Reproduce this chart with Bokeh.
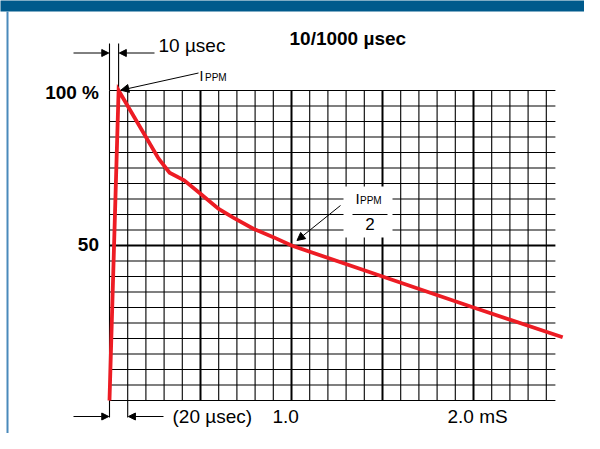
from bokeh.plotting import figure
from bokeh.models import Range1d, Arrow, NormalHead
from bokeh.core.properties import value
from bokeh.embed import file_html
from bokeh.resources import INLINE

# ---------------- data ----------------
time_ms = [0.0, 0.05, 0.27, 0.33, 0.41, 0.5, 0.6, 0.68, 0.79, 0.9, 1.0, 1.5, 2.0, 2.49]
current_pct = [0, 100, 78, 73.5, 71, 66.7, 61.8, 59, 55.4, 52.7, 50, 40, 30, 20.4]

y_tick_values = [100, 50]
y_tick_labels = ["100 %", "50"]
x_tick_values = [1.0, 2.0]
x_tick_labels = ["1.0", "2.0 mS"]

title_text = "10/1000 µsec"
rise_label = "10 µsec"
front_label = "(20 µsec)"

peak_time = 0.05      # 10 µsec rise marker
front_time = 0.1      # 20 µsec front marker
half_time = 1.0       # I_PPM/2 point
half_value = 50

grid_x_ticks = [i / 10 for i in range(25)]        # 0 .. 2.4 ms
grid_y_ticks = [i * 5 for i in range(21)]         # 0 .. 100 %
major_x = [0.5, 1.0, 1.5, 2.0]
major_y = [50]
grid_x_end = 2.45

# ---------------- layout ----------------
W, H = 584, 433
X0, Y0 = 109, 400          # canvas px of (0 ms, 0 %)
SX, SY = 182, 3.1          # px per ms, px per %
BASE_SHIFT = 0.37          # baseline correction (fraction of font size)


def X(px):   # canvas-pixel x -> data
    return (px - X0) / SX


def Y(py):   # canvas-pixel y (from top) -> data
    return (Y0 - py) / SY


p = figure(width=W, height=H,
           x_range=Range1d(-X0 / SX, (W - X0) / SX),
           y_range=Range1d((Y0 - H) / SY, Y0 / SY),
           output_backend="svg", toolbar_location=None,
           x_axis_type=None, y_axis_type=None, min_border=0,
           outline_line_color=None,
           background_fill_color="white", border_fill_color="white")
p.grid.visible = False

FONT = value("Liberation Sans")

# header bar & left border
p.quad(left=X(-10), right=X(620), top=Y(-10), bottom=Y(11), fill_color="#005a8c", line_color=None)
p.quad(left=X(6), right=X(8), top=Y(11), bottom=Y(460), fill_color="#4a8abb", line_color=None)

# grid
minor_x = [v for v in grid_x_ticks if v not in major_x]
minor_y = [v for v in grid_y_ticks if v not in major_y]
p.segment(x0=minor_x, y0=0, x1=minor_x, y1=100, line_color="black", line_width=1.1)
p.segment(x0=0, y0=minor_y, x1=grid_x_end, y1=minor_y, line_color="black", line_width=1.1)
p.segment(x0=major_x, y0=0, x1=major_x, y1=100, line_color="black", line_width=2)
p.segment(x0=0, y0=major_y, x1=grid_x_end, y1=major_y, line_color="black", line_width=2)

# extension lines outside grid
p.segment(x0=[0, peak_time, 0, front_time], y0=[100, 100, 0, 0],
          x1=[0, peak_time, 0, front_time], y1=[Y(43), Y(43), Y(417), Y(417)],
          line_color="black", line_width=1.1)

# white box behind I_PPM/2
p.quad(left=X(343), right=X(392), top=Y(186), bottom=Y(237), fill_color="white", line_color=None)

# pulse curve
p.line(time_ms, current_pct, line_color="#ed1c24", line_width=3.8, line_join="miter")


def arrow(x0, y0, x1, y1, size=7):
    p.add_layout(Arrow(end=NormalHead(size=size, fill_color="black", line_color="black", line_width=1),
                       x_start=x0, y_start=y0, x_end=x1, y_end=y1,
                       line_color="black", line_width=1))


# dimension arrows
arrow(X(73), Y(52.5), -0.004, Y(52.5))
arrow(X(154), Y(52.5), peak_time + 0.004, Y(52.5))
arrow(X(73), Y(416), -0.004, Y(416))
arrow(X(163), Y(416), front_time + 0.004, Y(416))
# callout arrows
arrow(X(198), Y(72.5), peak_time + 0.012, 100.1, size=8)
arrow(X(340), Y(205), half_time + 0.03, half_value + 1.6, size=8)


# texts (x in data units, baseline given in canvas px)
def txt(x, base_px, t, size, style="normal", align="left"):
    p.text(x=[x], y=[Y(base_px - BASE_SHIFT * size)], text=[t], text_font=FONT,
           text_font_size=f"{size}px", text_font_style=style, text_align=align,
           text_baseline="alphabetic", text_color="black")


txt(X(289), 45.5, title_text, 19, "bold")
txt(X(158), 52.3, rise_label, 19)
txt(X(172), 423, front_label, 19)

for v, lab in zip(y_tick_values, y_tick_labels):
    base = Y0 - v * SY + (9.5 if v == 100 else 6.5)
    txt(X(98.5), base, lab, 19, "bold", "right")

for v, lab in zip(x_tick_values, x_tick_labels):
    txt(v - (19 if v == 1.0 else 26) / SX, 423, lab, 19)

# I_PPM near peak
txt(X(199), 80.7, "I", 14)
txt(X(204.5), 80.7, "PPM", 10)

# I_PPM / 2
txt(X(355), 204, "I", 15)
txt(X(359.5), 204, "PPM", 10)
p.segment(x0=[X(352)], y0=[Y(214)], x1=[X(387)], y1=[Y(214)], line_color="black", line_width=1)
txt(X(369.5), 230, "2", 17, align="center")

open("out.html", "w").write(file_html(p, INLINE))
